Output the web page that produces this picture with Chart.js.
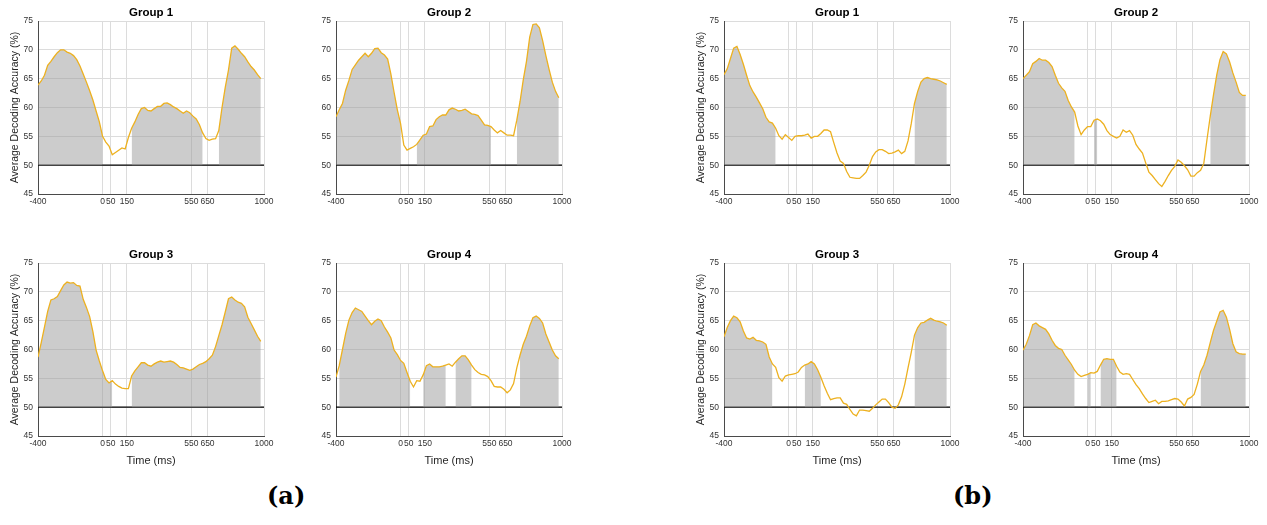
<!DOCTYPE html>
<html>
<head>
<meta charset="utf-8">
<script src="https://cdn.jsdelivr.net/npm/chart.js@4.4.1/dist/chart.umd.min.js"></script>
<style>
  body { margin: 0; background: #fff; width: 1267px; height: 525px; position: relative; overflow: hidden; }
  canvas { position: absolute; }
  .panel { position: absolute; font-family: "DejaVu Serif", "Liberation Serif", serif; font-weight: bold; font-size: 24px; color: #000; }
</style>
</head>
<body>
<canvas id="a1"></canvas>
<canvas id="a2"></canvas>
<canvas id="a3"></canvas>
<canvas id="a4"></canvas>
<canvas id="b1"></canvas>
<canvas id="b2"></canvas>
<canvas id="b3"></canvas>
<canvas id="b4"></canvas>
<div class="panel" style="left:267px; top:481px;">(a)</div>
<div class="panel" style="left:953px; top:481px;">(b)</div>
<script>
// time samples (ms)
const timeMs = [-400, -380, -360, -340, -320, -300, -280, -260, -240, -220, -200, -180, -160, -140, -120, -100, -80, -60, -40, -20,
  0, 20, 40, 60, 80, 100, 120, 140, 160, 180, 200, 220, 240, 260, 280, 300, 320, 340, 360, 380,
  400, 420, 440, 460, 480, 500, 520, 540, 560, 580, 600, 620, 640, 660, 680, 700, 720, 740, 760, 780,
  800, 820, 840, 860, 880, 900, 920, 940, 960, 980];

const xTickValues = [-400, 0, 50, 150, 550, 650, 1000];
const chanceLevel = 50;

// average decoding accuracy (%), panel (a)
const accA1 = [63.9, 64.6, 65.6, 67.3, 68.0, 68.8, 69.5, 70.0, 70.0, 69.6, 69.4, 69.0, 68.3, 67.2, 65.8, 64.4, 62.9, 61.3, 59.4, 57.5,
  55.0, 54.0, 53.3, 51.8, 52.2, 52.6, 53.0, 52.8, 54.8, 56.4, 57.5, 58.8, 59.8, 60.0, 59.5, 59.4, 59.8, 60.2, 60.2, 60.7,
  60.8, 60.5, 60.1, 59.8, 59.4, 59.0, 59.4, 59.1, 58.5, 58.0, 57.0, 55.6, 54.6, 54.3, 54.5, 54.6, 56.0, 60.0, 63.5, 66.5,
  70.3, 70.7, 70.1, 69.4, 68.8, 67.9, 67.1, 66.5, 65.7, 65.0];
const accA2 = [58.4, 59.6, 60.7, 63.0, 64.7, 66.6, 67.4, 68.2, 68.8, 69.4, 68.8, 69.4, 70.2, 70.3, 69.5, 69.1, 68.4, 65.8, 62.6, 59.6,
  57.2, 53.5, 52.6, 52.9, 53.2, 53.6, 54.4, 55.2, 55.4, 56.7, 56.8, 57.9, 58.4, 58.7, 58.7, 59.6, 59.9, 59.7, 59.4, 59.5,
  59.7, 59.3, 58.9, 58.8, 58.6, 57.8, 57.0, 56.9, 56.7, 56.1, 55.6, 56.0, 55.6, 55.2, 55.2, 55.1, 57.8, 61.0, 64.8, 68.0,
  72.2, 74.4, 74.5, 73.8, 71.6, 69.0, 66.6, 64.4, 62.8, 61.7];
const accA3 = [58.7, 61.2, 63.9, 66.6, 68.6, 68.8, 69.2, 70.2, 71.2, 71.7, 71.5, 71.6, 71.1, 71.0, 68.7, 67.3, 65.7, 63.1, 59.9, 58.0,
  56.3, 54.8, 54.2, 54.6, 54.0, 53.6, 53.3, 53.2, 53.2, 55.4, 56.3, 57.0, 57.7, 57.7, 57.3, 57.1, 57.5, 57.8, 58.0, 57.8,
  57.9, 58.0, 57.8, 57.4, 56.9, 56.8, 56.6, 56.4, 56.6, 57.0, 57.4, 57.6, 57.9, 58.4, 59.0, 60.5, 62.4, 64.3, 66.5, 68.8,
  69.1, 68.6, 68.2, 68.0, 67.4, 65.6, 64.5, 63.4, 62.3, 61.4];
const accA4 = [55.2, 57.2, 60.0, 62.8, 65.1, 66.4, 67.2, 66.9, 66.6, 65.8, 65.0, 64.3, 64.9, 65.3, 65.0, 63.9, 63.0, 62.0, 59.9, 59.1,
  58.1, 57.6, 56.0, 54.5, 53.5, 54.6, 54.5, 55.6, 57.2, 57.5, 57.0, 57.0, 57.0, 57.1, 57.3, 57.5, 57.1, 57.8, 58.4, 58.9,
  58.9, 58.2, 57.3, 56.5, 56.0, 55.7, 55.6, 55.3, 54.6, 53.6, 53.5, 53.5, 53.1, 52.5, 53.0, 54.1, 56.8, 59.0, 60.9, 62.3,
  64.1, 65.5, 65.8, 65.4, 64.6, 62.7, 61.3, 59.9, 58.9, 58.4];

// average decoding accuracy (%), panel (b)
const accB1 = [65.7, 66.7, 68.5, 70.3, 70.6, 69.2, 67.5, 65.6, 63.8, 62.7, 61.8, 60.8, 59.8, 58.3, 57.5, 57.3, 56.4, 55.1, 54.5, 55.3,
  54.8, 54.3, 55.0, 55.1, 55.1, 55.2, 55.4, 54.7, 55.0, 55.0, 55.5, 56.1, 56.1, 55.8, 53.9, 52.1, 50.7, 50.3, 48.9, 47.9,
  47.8, 47.7, 47.7, 48.2, 48.8, 50.0, 51.5, 52.3, 52.7, 52.7, 52.4, 52.0, 52.1, 52.3, 52.6, 52.0, 52.4, 54.2, 57.2, 60.7,
  62.8, 64.4, 65.0, 65.2, 65.0, 64.9, 64.8, 64.6, 64.3, 64.0];
const accB2 = [65.0, 65.6, 66.2, 67.6, 68.0, 68.5, 68.2, 68.2, 67.8, 67.1, 65.6, 64.2, 63.4, 62.8, 61.2, 60.1, 59.2, 56.8, 55.3, 56.1,
  56.7, 56.7, 57.8, 58.0, 57.7, 57.1, 56.0, 55.3, 55.0, 54.7, 55.0, 56.1, 55.7, 56.0, 55.2, 53.6, 52.8, 52.1, 50.4, 48.8,
  48.2, 47.5, 46.8, 46.3, 47.2, 48.2, 49.1, 49.8, 50.9, 50.5, 49.9, 49.2, 48.1, 48.1, 48.7, 49.1, 50.3, 54.5, 58.5, 62.2,
  65.6, 68.3, 69.7, 69.3, 67.9, 66.0, 64.4, 62.6, 62.1, 62.1];
const accB3 = [62.2, 63.8, 65.0, 65.8, 65.5, 64.8, 63.2, 62.0, 61.8, 62.1, 61.6, 61.5, 61.3, 60.9, 58.7, 57.5, 56.9, 55.1, 54.5, 55.4,
  55.6, 55.7, 55.8, 56.1, 56.9, 57.3, 57.5, 57.9, 57.5, 56.5, 55.2, 53.7, 52.4, 51.3, 51.5, 51.6, 51.6, 50.7, 50.5, 49.6,
  48.8, 48.5, 49.5, 49.5, 49.4, 49.3, 49.8, 50.4, 50.9, 51.4, 51.4, 50.8, 50.0, 49.8, 50.4, 51.8, 54.0, 56.8, 59.5, 62.5,
  63.8, 64.6, 64.7, 65.1, 65.4, 65.1, 64.9, 64.8, 64.6, 64.2];
const accB4 = [59.9, 60.9, 62.4, 64.3, 64.6, 64.1, 63.8, 63.5, 62.7, 61.6, 60.7, 60.2, 60.0, 59.0, 58.2, 57.4, 56.4, 55.7, 55.3, 55.5,
  55.7, 56.0, 55.9, 56.2, 57.3, 58.3, 58.4, 58.3, 58.3, 57.1, 56.1, 55.7, 55.8, 55.7, 54.8, 53.9, 53.2, 52.3, 51.5, 50.8,
  51.0, 51.2, 50.6, 51.0, 51.0, 51.1, 51.3, 51.5, 51.4, 50.9, 50.2, 51.4, 51.7, 52.2, 54.0, 56.2, 57.3, 59.0, 61.2, 63.3,
  64.9, 66.5, 66.8, 65.6, 63.5, 61.0, 59.6, 59.3, 59.2, 59.2];

// significant time windows [start, end] (ms)
const sigA1 = [[-400, 0], [180, 620], [720, 980]];
const sigA2 = [[-400, 0], [100, 560], [720, 980]];
const sigA3 = [[-400, 60], [180, 980]];
const sigA4 = [[-380, 60], [140, 280], [340, 440], [740, 980]];
const sigB1 = [[-400, -80], [780, 980]];
const sigB2 = [[-400, -80], [40, 60], [760, 980]];
const sigB3 = [[-400, -100], [100, 200], [780, 980]];
const sigB4 = [[-400, -80], [0, 20], [80, 180], [700, 980]];

const groupTitles = ['Group 1', 'Group 2', 'Group 3', 'Group 4'];

Chart.defaults.font.family = '"Liberation Sans", Arial, Helvetica, sans-serif';
Chart.defaults.color = '#262626';

function inWindows(t, windows) {
  return windows.some(w => t >= w[0] && t <= w[1]);
}

function makeChart(id, box, values, sig, title, yTitle, xTitle) {
  const yW = 38, padR = 22, titleH = 21;
  const xH = xTitle ? 34 : 22;
  const cv = document.getElementById(id);
  cv.width = yW + box.w + padR;
  cv.height = titleH + box.h + xH;
  cv.style.left = (box.x - yW) + 'px';
  cv.style.top = (box.y - titleH) + 'px';

  const line = timeMs.map((t, i) => ({ x: t, y: values[i] }));
  const shade = timeMs.map((t, i) => ({ x: t, y: inWindows(t, sig) ? values[i] : null }));

  return new Chart(cv, {
    type: 'line',
    data: {
      datasets: [
        { data: line, borderColor: '#EDB120', borderWidth: 1.3, pointRadius: 0, fill: false, order: 0 },
        { data: shade, borderWidth: 0, borderColor: 'rgba(0,0,0,0)', backgroundColor: 'rgba(153,153,153,0.5)',
          pointRadius: 0, fill: { value: chanceLevel }, spanGaps: false, order: 1 },
        { data: [{ x: -400, y: chanceLevel }, { x: 1000, y: chanceLevel }], borderColor: '#000', borderWidth: 1.3,
          pointRadius: 0, fill: false, order: 2 }
      ]
    },
    options: {
      responsive: false,
      animation: false,
      devicePixelRatio: 1,
      layout: { padding: { left: 0, right: padR, top: 0, bottom: 0 } },
      plugins: {
        legend: { display: false },
        tooltip: { enabled: false },
        title: {
          display: true, text: title, fullSize: false, color: '#000',
          font: { size: 11.5, weight: 'bold' }, padding: { top: 6, bottom: 1.2 }
        }
      },
      scales: {
        x: {
          type: 'linear', min: -400, max: 1000,
          afterBuildTicks: s => { s.ticks = xTickValues.map(v => ({ value: v })); },
          afterFit: s => { s.height = xH; },
          ticks: { autoSkip: false, maxRotation: 0, padding: 3, font: { size: 8.5 }, color: '#333',
            callback: v => String(v) },
          grid: { color: '#dcdcdc', drawTicks: false },
          border: { color: '#4a4a4a', width: 1 },
          title: { display: xTitle, text: 'Time (ms)', font: { size: 11 }, color: '#262626', padding: { top: 0, bottom: 2.4 } }
        },
        y: {
          min: 45, max: 75,
          afterFit: s => { s.width = yW; },
          ticks: { stepSize: 5, padding: 5, font: { size: 8.5 }, color: '#333' },
          grid: { color: '#dcdcdc', drawTicks: false },
          border: { color: '#4a4a4a', width: 1 },
          title: { display: yTitle, text: 'Average Decoding Accuracy (%)', font: { size: 10.5 }, color: '#262626', padding: { top: 8.7, bottom: 0 } }
        }
      }
    }
  });
}

// plot-area boxes for each subplot
const W = 226, H = 173;
makeChart('a1', { x: 38, y: 21, w: W, h: H }, accA1, sigA1, groupTitles[0], true, false);
makeChart('a2', { x: 336, y: 21, w: W, h: H }, accA2, sigA2, groupTitles[1], false, false);
makeChart('a3', { x: 38, y: 263, w: W, h: H }, accA3, sigA3, groupTitles[2], true, true);
makeChart('a4', { x: 336, y: 263, w: W, h: H }, accA4, sigA4, groupTitles[3], false, true);
makeChart('b1', { x: 724, y: 21, w: W, h: H }, accB1, sigB1, groupTitles[0], true, false);
makeChart('b2', { x: 1023, y: 21, w: W, h: H }, accB2, sigB2, groupTitles[1], false, false);
makeChart('b3', { x: 724, y: 263, w: W, h: H }, accB3, sigB3, groupTitles[2], true, true);
makeChart('b4', { x: 1023, y: 263, w: W, h: H }, accB4, sigB4, groupTitles[3], false, true);
</script>
</body>
</html>
